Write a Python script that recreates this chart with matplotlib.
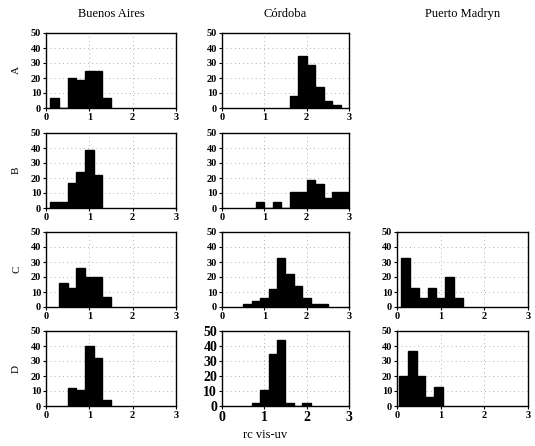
import numpy as np
import matplotlib.pyplot as plt

# histogram counts, bin width 0.2
bin_width = 0.2
cities = ["Buenos Aires", "Córdoba", "Puerto Madryn"]
rows = ["A", "B", "C", "D"]

# (first bin left edge, counts) per panel
ba_a = (0.1, [7, 0, 20, 19, 25, 25, 7])
ba_b = (0.1, [4, 4, 17, 24, 39, 22])
ba_c = (0.3, [16, 13, 26, 20, 20, 7])
ba_d = (0.5, [12, 11, 40, 32, 4])
co_a = (1.6, [8, 35, 29, 14, 5, 2])
co_b = (0.8, [4, 0, 4, 0, 11, 11, 19, 16, 7, 11, 11])
co_c = (0.5, [2, 4, 6, 12, 33, 22, 14, 6, 2, 2])
co_d = (0.7, [2, 11, 35, 44, 2, 0, 2])
pm_c = (0.1, [33, 13, 6, 13, 6, 20, 6])
pm_d = (0.05, [20, 37, 20, 6, 13])

panels = {
    (0, 0): ba_a, (1, 0): ba_b, (2, 0): ba_c, (3, 0): ba_d,
    (0, 1): co_a, (1, 1): co_b, (2, 1): co_c, (3, 1): co_d,
    (2, 2): pm_c, (3, 2): pm_d,
}

plt.rcParams['font.family'] = ['Liberation Serif', 'DejaVu Serif']

W, H = 535, 446
fig = plt.figure(figsize=(W / 100, H / 100), dpi=100)

col_x = [(46, 176), (222, 349), (397, 528)]
row_y = [(33, 108), (133, 208), (232, 307), (331, 406)]

for (r, c), (start, counts) in panels.items():
    x0, x1 = col_x[c]
    y0, y1 = row_y[r]
    ax = fig.add_axes([x0 / W, 1 - y1 / H, (x1 - x0) / W, (y1 - y0) / H])
    counts = np.array(counts)
    lefts = start + bin_width * np.arange(len(counts))
    ax.bar(lefts, counts, width=bin_width, align='edge', color='black',
           edgecolor='black', linewidth=1.0, zorder=3)
    ax.set_xlim(0, 3)
    ax.set_ylim(0, 50)
    ax.set_xticks([0, 1, 2, 3])
    ax.set_yticks([0, 10, 20, 30, 40, 50])
    fs = 10 if (r, c) == (3, 1) else 7.5
    ax.tick_params(labelsize=fs, length=2, width=0.8, pad=1.5)
    for lbl in ax.get_xticklabels() + ax.get_yticklabels():
        lbl.set_fontweight('bold')
    ax.grid(True, linestyle=(0, (1, 4)), color='#999999', linewidth=0.6, zorder=0)
    for s in ax.spines.values():
        s.set_linewidth(1.0)
    if c == 0:
        ax.set_ylabel(rows[r], fontsize=8, labelpad=7)

for c, name in enumerate(cities):
    x0, x1 = col_x[c]
    fig.text((x0 + x1) / 2 / W, 1 - 14 / H, name, ha='center', va='center', fontsize=9)

fig.text(265 / W, 1 - 435 / H, "rc vis-uv", ha='center', va='center', fontsize=9)

fig.savefig("out.png", dpi=100, facecolor='white')
